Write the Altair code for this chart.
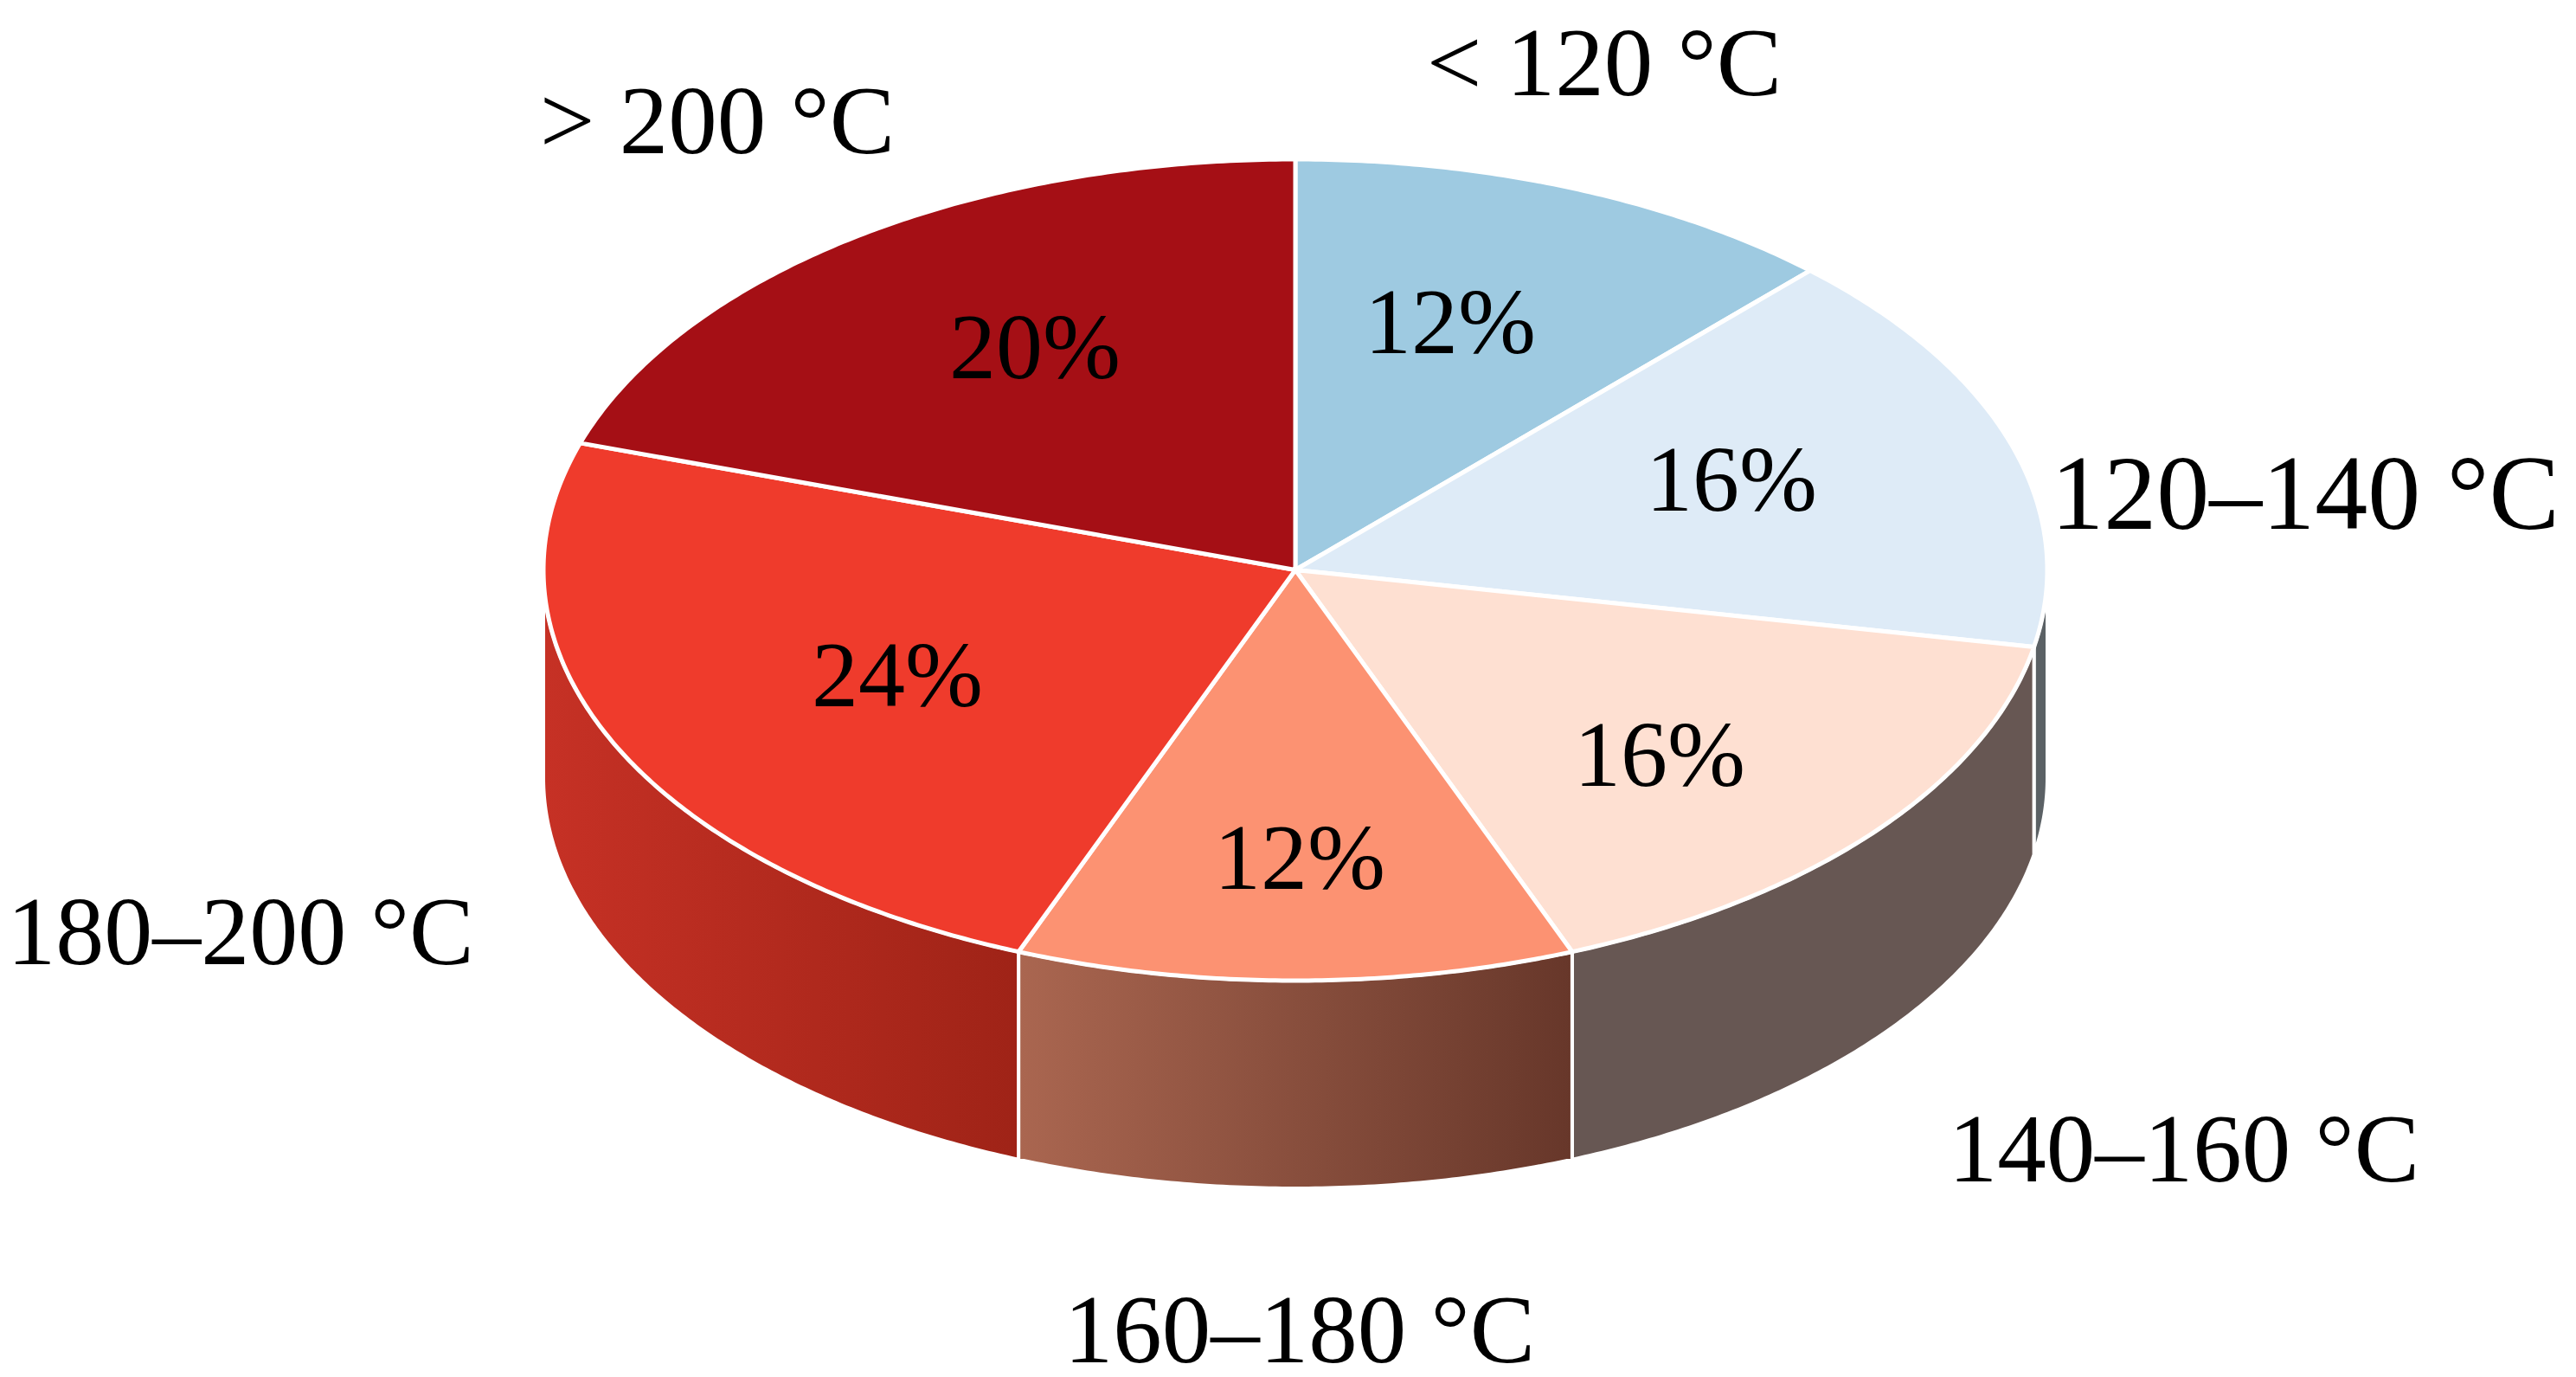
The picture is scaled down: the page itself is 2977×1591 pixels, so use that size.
import math
import altair as alt
import pandas as pd

categories = ["< 120 °C", "120–140 °C", "140–160 °C", "160–180 °C", "180–200 °C", "> 200 °C"]
shares = [12, 16, 16, 12, 24, 20]
top_colors = ["#9ecae1", "#deebf7", "#fee0d2", "#fc9272", "#ef3b2c", "#a50f15"]
wall_colors = [
    ("#5b6165", "#5b6165"),
    ("#675753", "#675753"),
    ("#aa6650", "#67372a"),
    ("#c63125", "#9f2317"),
]
wall_categories = ["120–140 °C", "140–160 °C", "160–180 °C", "180–200 °C"]

category_label_pos = {
    "< 120 °C": (1854, 110, 113),
    "120–140 °C": (2664, 611, 122),
    "140–160 °C": (2524, 1365, 113),
    "160–180 °C": (1502, 1574, 113),
    "180–200 °C": (278, 1114, 112),
    "> 200 °C": (829, 177, 113),
}
pct_label_pos = [(1676, 408), (2001, 590), (1918, 908), (1502, 1027), (1037, 816), (1196, 437)]

CX, CY, RX, RY, DEPTH = 1497, 658.5, 869, 474.5, 240
W, H = 2961, 1575
x_scale = alt.Scale(domain=[8, 8 + W], range=[0, W], nice=False, zero=False)
y_scale = alt.Scale(domain=[8, 8 + H], range=[0, H], nice=False, zero=False)


def pt(deg, dy=0):
    a = math.radians(deg)
    return CX + RX * math.sin(a), CY - RY * math.cos(a) + dy


def samples(a, b):
    n = max(2, int(abs(b - a) * 2))
    return [a + (b - a) * i / n for i in range(n + 1)]


bounds = []
acc = 0
for s in shares:
    bounds.append((acc * 3.6, (acc + s) * 3.6))
    acc += s


def poly_chart(points, fill, sw):
    df = pd.DataFrame({"x": [p[0] for p in points], "y": [p[1] for p in points], "i": range(len(points))})
    return alt.Chart(df).mark_line(fill=fill, stroke="white", strokeWidth=sw, strokeJoin="round", clip=False).encode(
        x=alt.X("x:Q", scale=x_scale, axis=None),
        y=alt.Y("y:Q", scale=y_scale, axis=None),
        order=alt.Order("i:Q"),
    )


layers = []
for cat, (left, right) in zip(wall_categories, wall_colors):
    a, b = bounds[categories.index(cat)]
    a, b = max(a, 90), min(b, 270)
    pts = [pt(t) for t in samples(a, b)] + [pt(t, DEPTH) for t in samples(b, a)]
    pts.append(pts[0])
    grad = alt.Gradient(
        gradient="linear",
        stops=[alt.GradientStop(color=left, offset=0), alt.GradientStop(color=right, offset=1)],
        x1=0, x2=1, y1=0, y2=0,
    )
    layers.append(poly_chart(pts, grad, 4))

for (a, b), col in zip(bounds, top_colors):
    pts = [(CX, CY)] + [pt(t) for t in samples(a, b)] + [(CX, CY)]
    layers.append(poly_chart(pts, col, 5))

text_rows = []
for cat in categories:
    x, y, fs = category_label_pos[cat]
    text_rows.append({"x": x, "y": y, "t": cat, "fs": fs})
for s, (x, y) in zip(shares, pct_label_pos):
    text_rows.append({"x": x, "y": y, "t": f"{s}%", "fs": 108})

text = alt.Chart(pd.DataFrame(text_rows)).mark_text(
    font="Liberation Serif", align="center", baseline="alphabetic", color="black"
).encode(
    x=alt.X("x:Q", scale=x_scale, axis=None),
    y=alt.Y("y:Q", scale=y_scale, axis=None),
    text="t:N",
    size=alt.Size("fs:Q", scale=None),
)

chart = alt.layer(*layers, text).properties(
    width=W, height=H, padding=0, autosize=alt.AutoSizeParams(type="none")
).configure_view(stroke=None)

chart.save("out.html", embed_options={"renderer": "svg", "actions": False})
